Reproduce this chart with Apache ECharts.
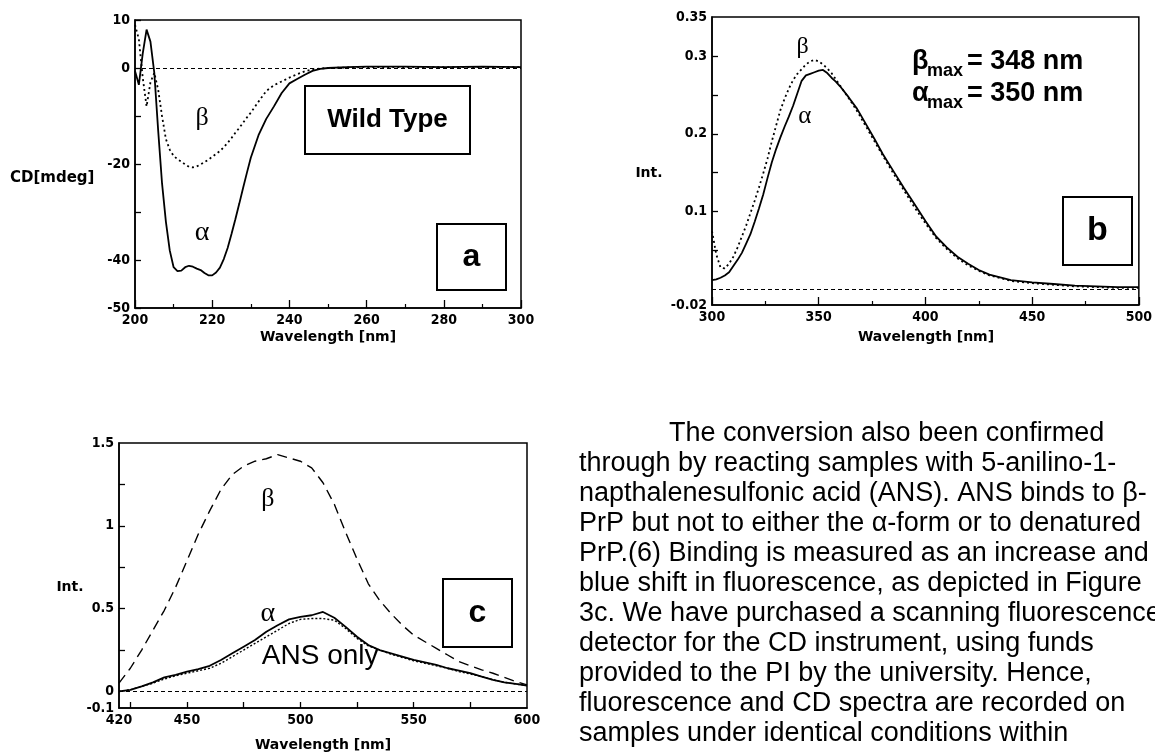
<!DOCTYPE html>
<html><head><meta charset="utf-8">
<script src="https://cdn.jsdelivr.net/npm/echarts@6/dist/echarts.min.js"></script>
<style>html,body{margin:0;padding:0;background:#fff}#c{width:1155px;height:756px}</style>
</head><body><div id="c"></div>
<script>
// ---------- Panel a : CD spectra ----------
const cdWavelength = [200,201,202,203,204,205,206,207,208,209,210,211,212,213,214,215,216,217,218,219,220,221,222,223,224,225,226,227,228,229,230,232,234,236,238,240,242,244,246,248,250,255,260,270,280,290,300];
const cdAlpha = [-0.6,-3.5,3,8,5.5,-1,-13,-24,-32,-38,-41.5,-42.3,-42.2,-41.5,-41.2,-41.4,-41.8,-42.1,-42.7,-43.2,-43.2,-42.6,-41.6,-39.8,-37.5,-34.6,-31.5,-28.3,-25,-21.8,-18.7,-14,-10.6,-8,-5.2,-3.2,-2.3,-1.4,-0.6,-0.2,0,0.2,0.3,0.3,0.2,0.3,0.2];
const cdBeta = [9,6,-2,-8,-3,-1,-4.5,-10,-14.8,-17,-18.3,-19,-19.5,-20.1,-20.6,-20.7,-20.5,-20.1,-19.6,-19.1,-18.5,-17.9,-17.3,-16.5,-15.6,-14.6,-13.5,-12.5,-11.4,-10.3,-9.3,-7,-4.8,-3.6,-2.8,-2,-1.3,-0.7,-0.3,-0.1,0,0.1,0.2,0.2,0.2,0.2,0.2];
const cdYLabels = [10,0,-20,-40,-50];

// ---------- Panel b : intrinsic fluorescence ----------
const flWavelength = [300,302,304,306,308,310,312,314,316,318,320,322,324,326,328,330,332,334,336,338,340,342,344,346,348,350,352,354,356,358,360,364,368,372,376,380,385,390,395,400,405,410,415,420,425,430,440,450,460,470,480,490,500];
const flAlpha = [0.012,0.013,0.015,0.018,0.022,0.030,0.038,0.047,0.059,0.071,0.087,0.104,0.122,0.143,0.163,0.180,0.195,0.209,0.222,0.236,0.252,0.268,0.275,0.277,0.279,0.281,0.282,0.278,0.272,0.267,0.261,0.247,0.232,0.213,0.194,0.174,0.152,0.130,0.109,0.088,0.068,0.054,0.042,0.033,0.025,0.019,0.012,0.009,0.007,0.005,0.004,0.003,0.003];
const flBeta = [0.075,0.045,0.028,0.027,0.033,0.042,0.054,0.068,0.082,0.098,0.114,0.131,0.149,0.168,0.190,0.210,0.230,0.245,0.258,0.269,0.277,0.283,0.289,0.293,0.295,0.293,0.289,0.284,0.278,0.270,0.262,0.246,0.229,0.210,0.191,0.172,0.149,0.127,0.105,0.085,0.066,0.052,0.040,0.031,0.024,0.018,0.011,0.008,0.006,0.004,0.003,0.002,0.002];
const flYLabels = [-0.02,0.1,0.2,0.3,0.35];
const flYTicks = [0.05,0.1,0.15,0.2,0.25,0.3];

// ---------- Panel c : ANS fluorescence ----------
const ansWavelength = [420,425,430,435,440,445,450,455,460,465,470,475,480,485,490,495,500,505,510,515,520,525,530,535,540,545,550,555,560,565,570,575,580,585,590,595,600];
const ansBeta = [0.05,0.14,0.25,0.37,0.49,0.63,0.79,0.95,1.09,1.22,1.31,1.36,1.39,1.405,1.43,1.41,1.39,1.35,1.26,1.13,0.96,0.80,0.65,0.55,0.47,0.40,0.34,0.30,0.26,0.22,0.18,0.155,0.13,0.11,0.085,0.06,0.04];
const ansAlpha = [0,0.01,0.03,0.055,0.085,0.10,0.12,0.135,0.155,0.19,0.23,0.27,0.31,0.36,0.40,0.435,0.45,0.46,0.48,0.445,0.39,0.33,0.28,0.25,0.23,0.21,0.19,0.175,0.16,0.14,0.125,0.11,0.09,0.07,0.055,0.045,0.035];
const ansOnly = [0,0.01,0.03,0.05,0.075,0.095,0.11,0.125,0.14,0.17,0.21,0.25,0.29,0.33,0.37,0.41,0.435,0.44,0.44,0.43,0.38,0.32,0.275,0.25,0.225,0.205,0.185,0.17,0.155,0.14,0.12,0.105,0.09,0.07,0.055,0.045,0.035];
const ansYLabels = [-0.1,0,0.5,1,1.5];
const ansYTicks = [0.25,0.5,0.75,1,1.25];
const ansXLabels = [420,450,500,550,600];
const ansXTicks = [425,450,475,500,525,550,575];

const paragraph = [
  'The conversion also been confirmed',
  'through by reacting samples with 5-anilino-1-',
  'napthalenesulfonic acid (ANS). ANS binds to \u03b2-',
  'PrP but not to either the \u03b1-form or to denatured',
  'PrP.(6) Binding is measured as an increase and',
  'blue shift in fluorescence, as depicted in Figure',
  '3c. We have purchased a scanning fluorescence',
  'detector for the CD instrument, using funds',
  'provided to the PI by the university. Hence,',
  'fluorescence and CD spectra are recorded on',
  'samples under identical conditions within'
];

const pairs = (xs, ys) => xs.map((x, i) => [x, ys[i]]);
const TICKFONT = '"DejaVu Sans Condensed", "DejaVu Sans", sans-serif';
const NAMEFONT = 'bold 14px "DejaVu Sans", "Liberation Sans", sans-serif';
const SERIF = '"Liberation Serif", "DejaVu Serif", serif';
const LAB = {color: '#000', fontFamily: TICKFONT, fontSize: 14, fontWeight: 'bold', margin: 5};

function xAxisCfg(grid, min, max, extra) {
  return Object.assign({
    type: 'value', gridIndex: grid, min, max, position: 'bottom',
    axisLine: {show: true, onZero: false, lineStyle: {color: '#000', width: 1.5}},
    axisTick: {show: true, inside: true, length: 8, lineStyle: {color: '#000', width: 1.3}},
    axisLabel: Object.assign({}, LAB),
    splitLine: {show: false}
  }, extra || {});
}
function yAxisCfg(grid, min, max, extra) {
  return Object.assign({
    type: 'value', gridIndex: grid, min, max, position: 'left',
    axisLine: {show: true, onZero: false, lineStyle: {color: '#000', width: 1.5}},
    axisTick: {show: true, inside: true, length: 6, lineStyle: {color: '#000', width: 1.3}},
    axisLabel: Object.assign({}, LAB),
    splitLine: {show: false}
  }, extra || {});
}
function lineSeries(x, y, data, dash, width) {
  return {
    type: 'line', xAxisIndex: x, yAxisIndex: y, data, showSymbol: false, symbol: 'none',
    smooth: false, silent: true, clip: true,
    lineStyle: {color: '#000', width: width || 1.6, type: dash || 'solid'}
  };
}
function zeroLine() {
  return {silent: true, symbol: ['none', 'none'], label: {show: false},
    lineStyle: {color: '#000', width: 1.2, type: [4, 3]}, data: [{yAxis: 0}]};
}
function tag(coord, text, size, family, align) {
  return {coord, symbol: 'circle', symbolSize: 0,
    label: {show: true, position: 'inside', formatter: text, color: '#000',
      fontFamily: family || SERIF, fontSize: size, align: align || 'center', verticalAlign: 'middle'}};
}

const chart = echarts.init(document.getElementById('c'), null, {renderer: 'canvas'});

const seriesA_alpha = lineSeries(0, 0, pairs(cdWavelength, cdAlpha), 'solid', 1.8);
seriesA_alpha.markLine = zeroLine();
seriesA_alpha.markPoint = {silent: true, data: [tag([217.4, -10.4], '\u03b2', 26), tag([217.4, -34.4], '\u03b1', 28)]};
const seriesA_beta = lineSeries(0, 0, pairs(cdWavelength, cdBeta), [2, 3], 1.8);

const seriesB_alpha = lineSeries(1, 1, pairs(flWavelength, flAlpha), 'solid', 1.8);
seriesB_alpha.markLine = zeroLine();
seriesB_alpha.markPoint = {silent: true, data: [tag([342.5, 0.312], '\u03b2', 24), tag([343.5, 0.222], '\u03b1', 25)]};
const seriesB_beta = lineSeries(1, 1, pairs(flWavelength, flBeta), [2, 3], 1.8);

const seriesC_beta = lineSeries(2, 2, pairs(ansWavelength, ansBeta), [10, 6], 1.4);
seriesC_beta.markLine = zeroLine();
seriesC_beta.markPoint = {silent: true, data: [tag([485.7, 1.16], '\u03b2', 26), tag([485.7, 0.47], '\u03b1', 28),
  tag([483, 0.21], 'ANS only', 28, '"Liberation Sans", Arial, sans-serif', 'left')]};
const seriesC_alpha = lineSeries(2, 2, pairs(ansWavelength, ansAlpha), 'solid', 1.8);
const seriesC_ans = lineSeries(2, 2, pairs(ansWavelength, ansOnly), [2, 2], 1.4);

function boxLabel(x, y, w, h, text, font) {
  return [
    {type: 'rect', z: 50, shape: {x, y, width: w, height: h}, style: {fill: '#fff', stroke: '#000', lineWidth: 2}},
    {type: 'text', z: 51, x: x + w / 2, y: y + h / 2, style: {text, font, fill: '#000', align: 'center', verticalAlign: 'middle', textAlign: 'center', textVerticalAlign: 'middle'}}
  ];
}
function txt(x, y, text, font, align) {
  return {type: 'text', z: 51, x, y, style: {text, font, fill: '#000', align: align || 'center', verticalAlign: 'middle', textAlign: align || 'center', textVerticalAlign: 'middle'}};
}
const BOLD = (s) => 'bold ' + s + 'px "Liberation Sans", Arial, sans-serif';

const graphics = [].concat(
  boxLabel(305, 86, 165, 68, 'Wild Type', BOLD(26)),
  boxLabel(437, 224, 69, 66, 'a', BOLD(32)),
  boxLabel(1063, 197, 69, 68, 'b', BOLD(34)),
  boxLabel(443, 579, 69, 68, 'c', BOLD(32)),
  [
    txt(10, 178, 'CD[mdeg]', 'bold 15px "DejaVu Sans", "Liberation Sans", sans-serif', 'left'),
    txt(328, 337, 'Wavelength [nm]', NAMEFONT),
    txt(649, 173, 'Int.', NAMEFONT),
    txt(926, 337, 'Wavelength [nm]', NAMEFONT),
    txt(70, 587, 'Int.', NAMEFONT),
    txt(323, 745, 'Wavelength [nm]', NAMEFONT),
    txt(912, 62, '\u03b2', BOLD(27), 'left'),
    txt(927, 71, 'max', BOLD(18), 'left'),
    txt(967, 62, '= 348 nm', BOLD(27), 'left'),
    txt(912, 94, '\u03b1', BOLD(27), 'left'),
    txt(927, 103, 'max', BOLD(18), 'left'),
    txt(967, 94, '= 350 nm', BOLD(27), 'left')
  ],
  paragraph.map((line, i) => txt(i === 0 ? 669 : 579, 434 + i * 30, line, '27px "Liberation Sans", Arial, sans-serif', 'left'))
);

chart.setOption({
  animation: false,
  backgroundColor: '#fff',
  grid: [
    {left: 135, top: 20, width: 386, height: 288, show: true, borderColor: '#000', borderWidth: 1.5, backgroundColor: 'transparent'},
    {left: 712, top: 17, width: 428, height: 288, show: true, borderColor: '#000', borderWidth: 1.5, backgroundColor: 'transparent'},
    {left: 119, top: 443, width: 408, height: 265, show: true, borderColor: '#000', borderWidth: 1.5, backgroundColor: 'transparent'}
  ],
  xAxis: [
    xAxisCfg(0, 200, 300, {interval: 20, minorTick: {show: true, splitNumber: 2, length: 4, lineStyle: {color: '#000', width: 1.2}}}),
    xAxisCfg(1, 300, 500, {interval: 50, minorTick: {show: true, splitNumber: 2, length: 4, lineStyle: {color: '#000', width: 1.2}}}),
    xAxisCfg(2, 420, 600, {
      axisTick: {show: true, inside: true, length: 6, customValues: ansXTicks, lineStyle: {color: '#000', width: 1.3}},
      axisLabel: Object.assign({customValues: ansXLabels}, LAB)
    })
  ],
  yAxis: [
    yAxisCfg(0, -50, 10, {interval: 10, axisLabel: Object.assign({
      formatter: v => (cdYLabels.indexOf(v) >= 0 ? String(v) : '')}, LAB)}),
    yAxisCfg(1, -0.02, 0.35, {
      axisTick: {show: true, inside: true, length: 6, customValues: flYTicks, lineStyle: {color: '#000', width: 1.3}},
      axisLabel: Object.assign({customValues: flYLabels}, LAB)
    }),
    yAxisCfg(2, -0.1, 1.5, {
      axisTick: {show: true, inside: true, length: 6, customValues: ansYTicks, lineStyle: {color: '#000', width: 1.3}},
      axisLabel: Object.assign({customValues: ansYLabels}, LAB)
    })
  ],
  series: [seriesA_alpha, seriesA_beta, seriesB_alpha, seriesB_beta, seriesC_beta, seriesC_alpha, seriesC_ans],
  graphic: graphics
});
</script>
</body></html>
